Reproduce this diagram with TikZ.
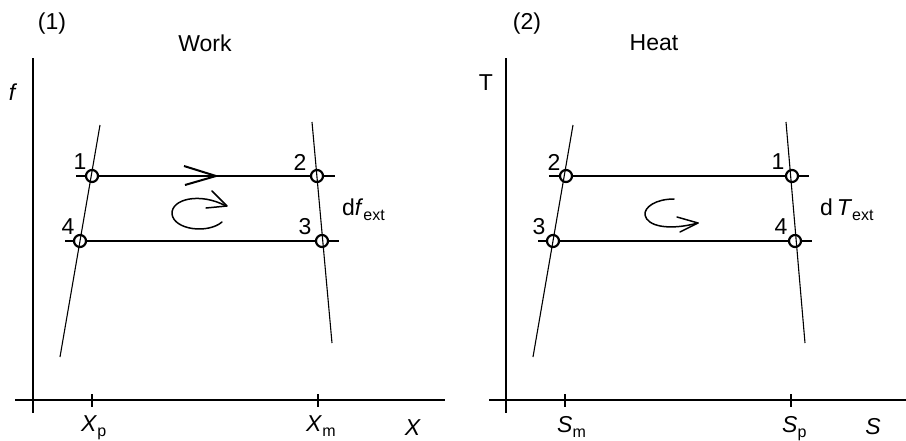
\documentclass[tikz,border=0pt]{standalone}
\usepackage{fontspec}
\setmainfont{Liberation Sans}
\usetikzlibrary{positioning}

\newcommand\lowsub[1]{\raisebox{-5pt}{\fontsize{16}{16}\selectfont #1}}

\begin{document}
\begin{tikzpicture}[
  x=1pt, y=-1pt,
  font=\fontsize{23}{26}\selectfont,
  axis/.style={line width=2pt},
  tick/.style={line width=1.8pt},
  branch/.style={line width=1.1pt},
  upper/.style={line width=2pt},
  lower/.style={line width=1.3pt},
  turn/.style={line width=1.5pt, line cap=round, line join=round},
  state/.style={circle, draw, line width=2.2pt, minimum size=12pt, inner sep=0pt},
  lbl/.style={inner sep=0pt},
]
\useasboundingbox (0,0) rectangle (906,440);

% ---- (1) Work ----
\node[lbl] (wtag)   at (52,24)  {(1)};
\node[lbl] (wtitle) at (205,43) {Work};
\node[lbl] (wf)     at (13,92)  {\textit{f}};

\coordinate (wyt) at (33,58);
\coordinate (wyb) at (33,413);
\coordinate (wxl) at (15,400);
\coordinate (wxr) at (445,400);
\draw[axis] (wyt) -- (wyb);
\draw[axis] (wxl) -- (wxr);
\draw[tick] (92,394) -- (92,407);
\draw[tick] (318,394) -- (318,407);
\node[lbl, anchor=base west] (wxp) at (81,431) {\textit{X}\lowsub{p}};
\node[lbl, anchor=base west] (wxm) at (306,431) {\textit{X}\lowsub{m}};
\node[lbl] (wx) at (413,428) {\textit{X}};

\coordinate (wlt) at (100,125);
\coordinate (wlb) at (60,357);
\coordinate (wrt) at (312,122);
\coordinate (wrb) at (332,343);
\draw[branch] (wlt) -- (wlb);
\draw[branch] (wrt) -- (wrb);

\node[state] (w1) at (92,176)  {};
\node[state] (w2) at (317,176) {};
\node[state] (w3) at (322,241) {};
\node[state] (w4) at (80,241)  {};

\draw[upper] (76,176) -- (w1) -- (w2) -- (335,176);
\draw[lower] (65,241) -- (w4) -- (w3) -- (339,241);
\draw[upper, line join=miter] (184,166) -- (216,176) -- (185,185);

\node[lbl] (wl1) at (80,162)  {1};
\node[lbl] (wl2) at (300,162) {2};
\node[lbl] (wl3) at (305,227) {3};
\node[lbl] (wl4) at (68,227)  {4};
\node[lbl, anchor=base west] (wdf) at (342,215) {d\textit{f}\lowsub{ext}};

\draw[turn] (222,222) .. controls (208,234) and (174,230) .. (172,214)
  .. controls (171,199) and (200,192) .. (226,206);
\draw[turn] (212,191) -- (227,206) -- (206,208);

% ---- (2) Heat ----
\node[lbl] (htag)   at (527,24) {(2)};
\node[lbl] (htitle) at (654,43) {Heat};
\node[lbl] (ht)     at (486,83) {T};

\coordinate (hyt) at (506,58);
\coordinate (hyb) at (506,413);
\coordinate (hxl) at (489,400);
\coordinate (hxr) at (906,400);
\draw[axis] (hyt) -- (hyb);
\draw[axis] (hxl) -- (hxr);
\draw[tick] (565,394) -- (565,407);
\draw[tick] (791,394) -- (791,407);
\node[lbl, anchor=base west] (hsm) at (557,432) {\textit{S}\lowsub{m}};
\node[lbl, anchor=base west] (hsp) at (782,432) {\textit{S}\lowsub{p}};
\node[lbl] (hs) at (873,427) {\textit{S}};

\coordinate (hlt) at (573,125);
\coordinate (hlb) at (533,357);
\coordinate (hrt) at (786,122);
\coordinate (hrb) at (805,343);
\draw[branch] (hlt) -- (hlb);
\draw[branch] (hrt) -- (hrb);

\node[state] (h1) at (792,176) {};
\node[state] (h2) at (566,176) {};
\node[state] (h3) at (553,241) {};
\node[state] (h4) at (795,241) {};

\draw[upper] (549,176) -- (h2) -- (h1) -- (809,176);
\draw[lower] (538,241) -- (h3) -- (h4) -- (812,241);

\node[lbl] (hl1) at (778,162) {1};
\node[lbl] (hl2) at (554,162) {2};
\node[lbl] (hl3) at (539,227) {3};
\node[lbl] (hl4) at (781,227) {4};
\node[lbl, anchor=base west] (hdt) at (820,215) {d\,\textit{T}\lowsub{ext}};

\draw[turn] (674,199) .. controls (656,199) and (644,207) .. (645,215)
  .. controls (647,226) and (668,231) .. (698,223);
\draw[turn] (677,217) -- (698,223) -- (680,232);

\end{tikzpicture}
\end{document}
